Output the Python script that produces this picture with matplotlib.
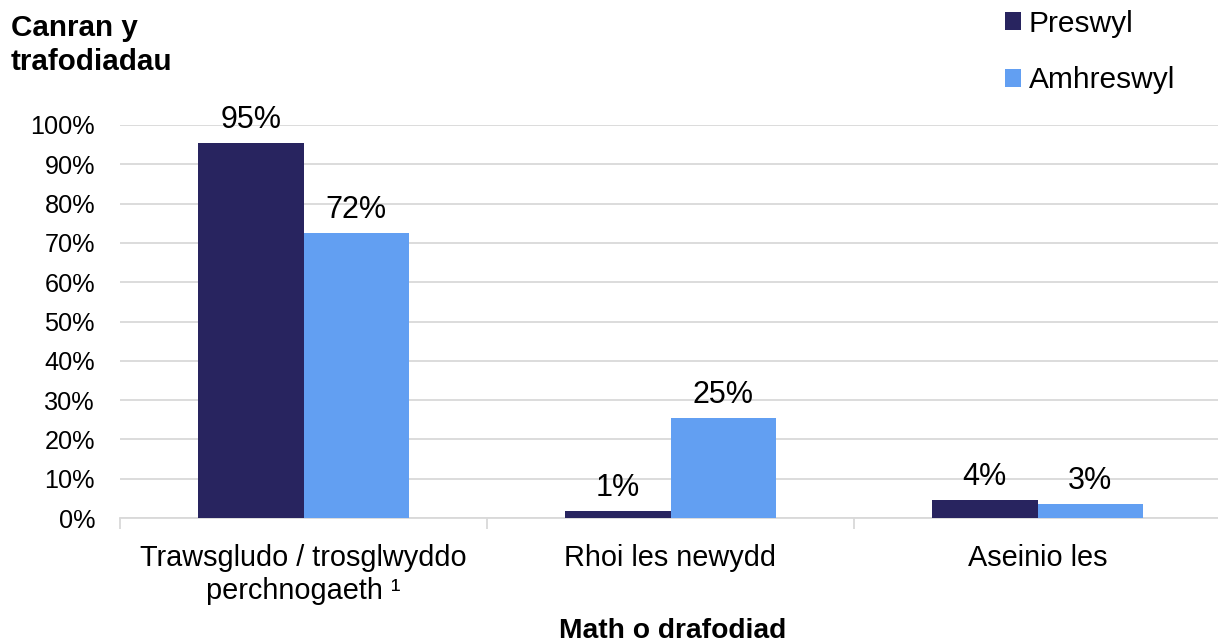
import numpy as np
import matplotlib.pyplot as plt

plt.rcParams['font.family'] = ['Liberation Sans', 'DejaVu Sans']

categories = ['Trawsgludo / trosglwyddo\nperchnogaeth ¹', 'Rhoi les newydd', 'Aseinio les']
preswyl = [95.4, 1.7, 4.5]
amhreswyl = [72.4, 25.4, 3.5]
preswyl_labels = ['95%', '1%', '4%']
amhreswyl_labels = ['72%', '25%', '3%']
yticks = list(range(0, 101, 10))

col_pres = '#28245f'
col_amh = '#629ff2'
fs = 20.8

fig = plt.figure(figsize=(12.18, 6.43), dpi=100)
ax = fig.add_axes([120 / 1218, 125 / 643, 1101 / 1218, 393 / 643])

x = np.arange(len(categories))
w = 0.287
b1 = ax.bar(x - w / 2, preswyl, w, color=col_pres, label='Preswyl', zorder=3)
b2 = ax.bar(x + w / 2, amhreswyl, w, color=col_amh, label='Amhreswyl', zorder=3)

# value labels above each bar
for bars, labs in [(b1, preswyl_labels), (b2, amhreswyl_labels)]:
    for bar, lab in zip(bars, labs):
        ax.annotate(lab, (bar.get_x() + bar.get_width() / 2, bar.get_height()),
                    xytext=(0, 6), textcoords='offset points',
                    ha='center', va='bottom', fontsize=22)

ax.set_xlim(-0.5, 2.5)
ax.set_ylim(0, 100)
ax.set_yticks(yticks)
ax.set_yticklabels([f'{t}%' for t in yticks], fontsize=18.2)
ax.grid(axis='y', color='#d9d9d9', linewidth=1.3, zorder=0)

ax.set_xticks(x)
ax.set_xticklabels(categories, fontsize=fs, linespacing=1.2)
ax.tick_params(axis='x', length=0, pad=19)
ax.set_xticks([-0.5, 0.5, 1.5, 2.5], minor=True)
ax.tick_params(axis='x', which='minor', length=8, color='#d9d9d9', width=1.3)
ax.tick_params(axis='y', length=0, pad=18)

for s in ['left', 'right', 'top']:
    ax.spines[s].set_visible(False)
ax.spines['bottom'].set_color('#d9d9d9')
ax.spines['bottom'].set_linewidth(1.3)

fig.text(11 / 1218, 1 - 14 / 643, 'Canran y\ntrafodiadau', fontsize=21.3,
         fontweight='bold', ha='left', va='top', linespacing=1.25)
fig.text(673 / 1218, 1 - 631 / 643, 'Math o drafodiad', fontsize=20.3,
         fontweight='bold', ha='center', va='center')

fig.legend(loc='upper left', bbox_to_anchor=(978 / 1218, 1 + 17 / 643),
           frameon=False, fontsize=21.5, handlelength=0.55, handleheight=0.55,
           handletextpad=0.25, labelspacing=0.95)

fig.savefig('out.png', dpi=100)
